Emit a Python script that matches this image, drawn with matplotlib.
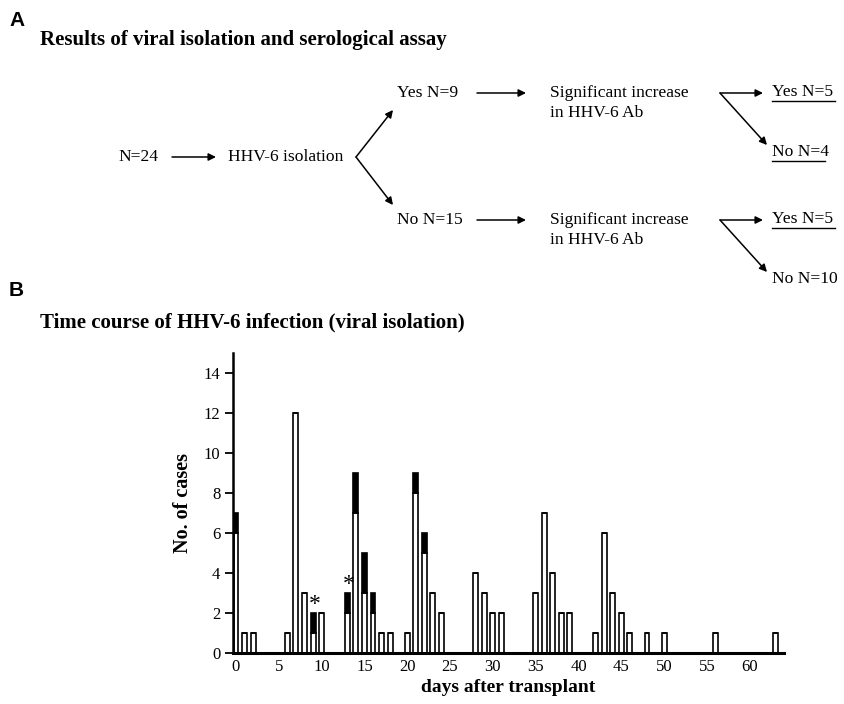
import numpy as np
import matplotlib
matplotlib.use('Agg')
import matplotlib.pyplot as plt

# --- data: panel B, cases per day after transplant ---
days = [0, 1, 2, 6, 7, 8, 9, 10, 13, 14, 15, 16, 17, 18, 20, 21, 22, 23, 24,
        28, 29, 30, 31, 35, 36, 37, 38, 39, 42, 43, 44, 45, 46, 48, 50, 56, 63]
open_cases = [6, 1, 1, 1, 12, 3, 1, 2, 2, 7, 3, 2, 1, 1, 1, 8, 5, 3, 2,
              4, 3, 2, 2, 3, 7, 4, 2, 2, 1, 6, 3, 2, 1, 1, 1, 1, 1]
black_cases = [1, 0, 0, 0, 0, 0, 1, 0, 1, 2, 2, 1, 0, 0, 0, 1, 1, 0, 0,
               0, 0, 0, 0, 0, 0, 0, 0, 0, 0, 0, 0, 0, 0, 0, 0, 0, 0]
star_days = [9, 13]
x_ticks = [0, 5, 10, 15, 20, 25, 30, 35, 40, 45, 50, 55, 60]
y_ticks = [0, 2, 4, 6, 8, 10, 12, 14]

# --- data: panel A flowchart text ---
n_total = 'N=24'
isolation = 'HHV-6 isolation'
iso_labels = ['Yes N=9', 'No N=15']
sero_lines = ['Significant increase', 'in HHV-6 Ab']
sero_yes = ['Yes N=5', 'Yes N=5']
sero_no = ['No N=4', 'No N=10']
sero_no_underlined = [True, False]

W, H = 844, 704
SERIF = 'Liberation Serif'
fig = plt.figure(figsize=(W / 100, H / 100), dpi=100)

# overlay in pixel coords for panel A and headings
ov = fig.add_axes([0, 0, 1, 1])
ov.set_xlim(0, W)
ov.set_ylim(H, 0)
ov.axis('off')

ov.text(9, 20, 'A', fontsize=15, fontweight='bold', family='Liberation Sans', va='center')
ov.text(9, 290, 'B', fontsize=15, fontweight='bold', family='Liberation Sans', va='center')
ov.text(40, 40, 'Results of viral isolation and serological assay', fontsize=15,
        fontweight='bold', family=SERIF, va='center')
ov.text(40, 322, 'Time course of HHV-6 infection (viral isolation)', fontsize=15,
        fontweight='bold', family=SERIF, va='center')

fs = 12.6
arw = dict(arrowstyle='-|>', lw=1.1, color='black', mutation_scale=11, shrinkA=0, shrinkB=0)


def arrow(x0, y0, x1, y1):
    ov.annotate('', xy=(x1, y1), xytext=(x0, y0), arrowprops=arw)


def underline(x0, x1, y):
    ov.plot([x0, x1], [y, y], color='black', lw=1.0)


ov.text(118, 157, n_total, fontsize=fs, family=SERIF, va='center')
arrow(172, 157, 216, 157)
ov.text(228, 157, isolation, fontsize=fs, family=SERIF, va='center')
arrow(356, 157, 393, 110)
arrow(356, 157, 393, 205)

rows = [93, 220]
for i, y in enumerate(rows):
    ov.text(397, y, iso_labels[i], fontsize=fs, family=SERIF, va='center')
    arrow(477, y, 526, y)
    ov.text(550, y, sero_lines[0], fontsize=fs, family=SERIF, va='center')
    ov.text(550, y + 20, sero_lines[1], fontsize=fs, family=SERIF, va='center')
    arrow(720, y, 763, y)
    arrow(720, y, 767, y + 52)
    ov.text(772, y - 1, sero_yes[i], fontsize=fs, family=SERIF, va='center')
    underline(772, 835, y + 8)
    ov.text(772, y + 59, sero_no[i], fontsize=fs, family=SERIF, va='center')
    if sero_no_underlined[i]:
        underline(772, 825, y + 68)

# --- panel B bar chart ---
ax = fig.add_axes([233 / W, 1 - 653 / H, (784 - 233) / W, (653 - 353) / H])
bw = 0.58
ax.bar(days, open_cases, width=bw, color='white', edgecolor='black', linewidth=1.2, zorder=2)
ax.bar(days, black_cases, width=bw, bottom=open_cases, color='black', edgecolor='black',
       linewidth=1.2, zorder=2)
tops = dict(zip(days, np.add(open_cases, black_cases)))
for d in star_days:
    ax.text(d + 0.2, tops[d] - 0.1, '*', ha='center', va='bottom', fontsize=17, family=SERIF)

ax.set_xlim(-0.35, 64)
ax.set_ylim(0, 15)
ax.set_xticks(x_ticks)
ax.set_yticks(y_ticks)
for s in ['top', 'right']:
    ax.spines[s].set_visible(False)
ax.spines['left'].set_linewidth(1.8)
ax.spines['bottom'].set_linewidth(2.2)
ax.tick_params(axis='x', length=0, pad=4, labelsize=12)
ax.tick_params(axis='y', length=6, width=1.3, pad=3, labelsize=12)
for lab in ax.get_xticklabels() + ax.get_yticklabels():
    lab.set_family(SERIF)
ax.set_xlabel('days after transplant', fontsize=14, fontweight='bold', family=SERIF, labelpad=3)
ax.set_ylabel('No. of cases', fontsize=14.5, fontweight='bold', family=SERIF, labelpad=8)

fig.savefig('out.png', dpi=100)
